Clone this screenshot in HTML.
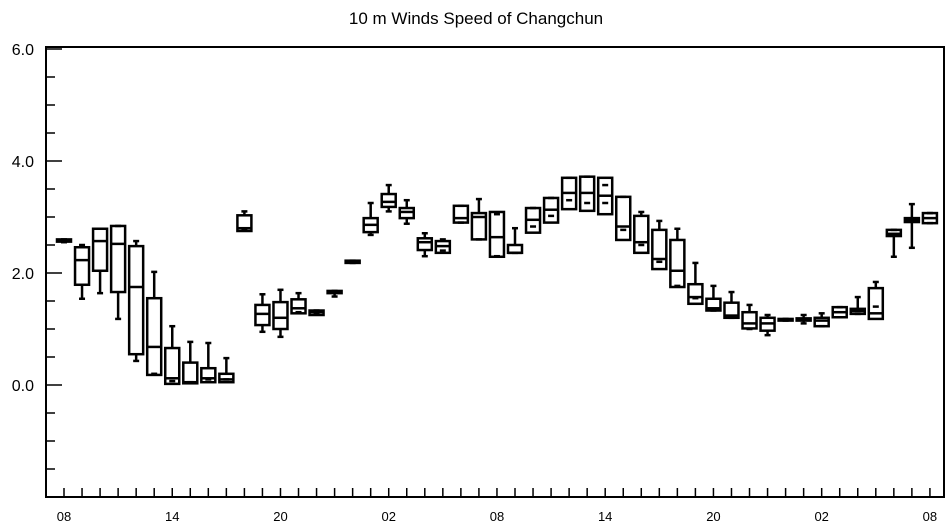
<!DOCTYPE html>
<html><head><meta charset="utf-8"><style>
body{margin:0;background:#fff;font-family:"Liberation Sans",sans-serif}
svg{display:block}
</style></head><body>
<svg id="chart" width="952" height="526">
<text x="476" y="24" text-anchor="middle" font-size="17">10 m Winds Speed of Changchun</text>
<g id="axes"></g>
<g id="boxes"></g>
</svg>
<script>
const hourLabels = ["08","14","20","02","08","14","20","02","08"];
const yTicks = [6.0, 4.0, 2.0, 0.0];
const hours = [0,1,2,3,4,5,6,7,8,9,10,11,12,13,14,15,16,17,18,19,20,21,22,23,24,25,26,27,28,29,30,31,32,33,34,35,36,37,38,39,40,41,42,43,44,45,46,47,48];
const q3s = [2.6,2.46,2.79,2.84,2.48,1.55,0.66,0.4,0.3,0.2,3.03,1.43,1.48,1.53,1.33,1.68,2.22,2.98,3.41,3.16,2.62,2.57,3.2,3.07,3.09,2.5,3.16,3.34,3.7,3.72,3.7,3.36,3.02,2.77,2.59,1.8,1.54,1.47,1.3,1.2,1.18,1.19,1.2,1.39,1.36,1.73,2.77,2.98,3.07];
const medians = [2.58,2.23,2.57,2.52,1.75,0.68,0.12,0.05,0.12,0.1,2.8,1.27,1.2,1.37,1.3,1.66,2.2,2.86,3.27,3.09,2.55,2.48,2.98,3.0,2.64,2.36,2.95,3.13,3.43,3.43,3.38,2.83,2.55,2.25,2.04,1.57,1.37,1.24,1.1,1.1,1.16,1.17,1.15,1.3,1.32,1.28,2.7,2.95,2.98];
const q1s = [2.56,1.79,2.04,1.66,0.55,0.18,0.02,0.03,0.05,0.05,2.75,1.07,1.0,1.28,1.25,1.64,2.18,2.73,3.18,2.98,2.41,2.36,2.9,2.6,2.29,2.36,2.72,2.9,3.14,3.11,3.05,2.59,2.36,2.07,1.75,1.45,1.33,1.2,1.01,0.97,1.15,1.15,1.05,1.21,1.27,1.18,2.66,2.91,2.89];
const maxs = [2.6,2.5,2.79,2.84,2.57,2.02,1.05,0.77,0.75,0.48,3.1,1.62,1.7,1.64,1.33,1.68,2.22,3.25,3.57,3.3,2.71,2.6,3.2,3.32,3.05,2.8,3.16,3.34,3.7,3.72,3.57,3.36,3.09,2.93,2.79,2.18,1.77,1.66,1.43,1.25,1.18,1.25,1.28,1.39,1.57,1.84,2.77,3.23,3.07];
const mins = [2.55,1.54,1.64,1.18,0.43,0.2,0.07,0.05,0.1,0.1,2.78,0.95,0.86,1.3,1.28,1.58,2.18,2.68,3.1,2.88,2.3,2.4,2.9,2.6,2.3,2.36,2.83,3.02,3.3,3.25,3.25,2.77,2.5,2.2,1.77,1.55,1.33,1.2,1.0,0.89,1.15,1.1,1.05,1.21,1.27,1.4,2.29,2.45,2.89];

const NS="http://www.w3.org/2000/svg";
const L=46,R=944,T=47,B=497;
const x = h => 64 + h*18.04;
const y = v => 385 - v*56;
function mk(parent,tag,attrs){const e=document.createElementNS(NS,tag);for(const k in attrs)e.setAttribute(k,attrs[k]);parent.appendChild(e);return e;}
const ax=document.getElementById('axes');
const frame=mk(ax,'rect',{x:L,y:T,width:R-L,height:B-T,fill:'none',stroke:'#000','stroke-width':2});


for(let v=-2;v<=6.001;v+=0.5){
  const major=Math.abs(v-Math.round(v/2)*2)<1e-6;
  const t=mk(ax,'line',{x1:L,x2:L+(major?16:9),y1:y(v),y2:y(v),stroke:'#000','stroke-width':1.5});
  
  
}
yTicks.forEach(v=>{
  const t=mk(ax,'text',{x:34,y:y(v)+6,'text-anchor':'end','font-size':16});
  t.textContent=v.toFixed(1);
  
  
});
for(let h=0;h<=48;h++){
  const t=mk(ax,'line',{x1:x(h),x2:x(h),y1:B,y2:B-9,stroke:'#000','stroke-width':1.5});
  
  
}
hourLabels.forEach((s,i)=>{
  const t=mk(ax,'text',{x:x(i*6),y:521,'text-anchor':'middle','font-size':13});
  t.textContent=s;
  
  
});
const bx=document.getElementById('boxes');
hours.forEach((h,i)=>{
  const cx=x(h),w=14;
  const g=mk(bx,'g',{stroke:'#000','stroke-width':2.5,fill:'none'});
  
  
  mk(g,'rect',{x:cx-w/2,y:y(q3s[i]),width:w,height:Math.max(1,y(q1s[i])-y(q3s[i]))});
  mk(g,'line',{x1:cx-w/2,x2:cx+w/2,y1:y(medians[i]),y2:y(medians[i])});
  if(maxs[i]>q3s[i]){mk(g,'line',{x1:cx,x2:cx,y1:y(q3s[i]),y2:y(maxs[i])});}
  mk(g,'line',{x1:cx-3,x2:cx+3,y1:y(maxs[i]),y2:y(maxs[i])});
  if(mins[i]<q1s[i]){mk(g,'line',{x1:cx,x2:cx,y1:y(q1s[i]),y2:y(mins[i])});}
  mk(g,'line',{x1:cx-3,x2:cx+3,y1:y(mins[i]),y2:y(mins[i])});
});
</script>
</body></html>
